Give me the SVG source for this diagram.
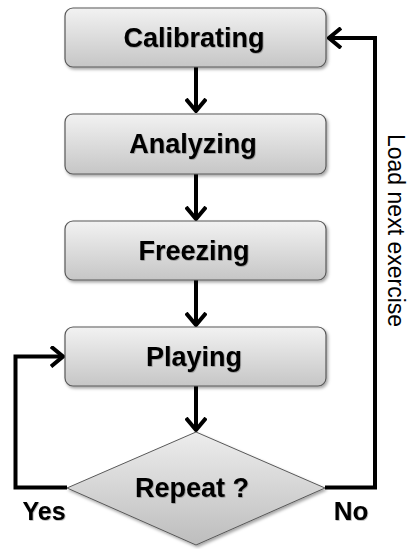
<svg xmlns="http://www.w3.org/2000/svg" width="413" height="549" viewBox="0 0 413 549">
<defs>
<linearGradient id="gBox" x1="0" y1="0" x2="0" y2="1">
<stop offset="0" stop-color="#f2f2f2"/>
<stop offset="1" stop-color="#c6c6c6"/>
</linearGradient>
<linearGradient id="gDia" x1="0" y1="0" x2="0" y2="1">
<stop offset="0" stop-color="#ededed"/>
<stop offset="1" stop-color="#bdbdbd"/>
</linearGradient>
<filter id="sh" x="-10%" y="-10%" width="120%" height="130%">
<feDropShadow dx="1.5" dy="2" stdDeviation="1.5" flood-color="#000" flood-opacity="0.35"/>
</filter>
<filter id="tsh" x="-5%" y="-10%" width="110%" height="130%">
<feDropShadow dx="0.7" dy="0.7" stdDeviation="0.4" flood-color="#000" flood-opacity="0.35"/>
</filter>
<marker id="ah" viewBox="0 0 15 22" refX="13" refY="11" markerWidth="15" markerHeight="22" markerUnits="userSpaceOnUse" orient="auto">
<path d="M1,1 L13,11 L1,21" fill="none" stroke="#000" stroke-width="4"/>
</marker>
</defs>
<style>
.box{fill:url(#gBox);stroke:#595959;stroke-width:1.2;filter:url(#sh)}
.dia{fill:url(#gDia);stroke:#595959;stroke-width:1;filter:url(#sh)}
.lbl{font-family:"Liberation Sans",Arial,sans-serif;font-weight:bold;font-size:27px;fill:#000;text-anchor:middle;filter:url(#tsh)}
.side{font-family:"Liberation Sans",Arial,sans-serif;font-size:23px;fill:#000}
.c{fill:none;stroke:#000;stroke-width:4}
</style>
<g id="connectors">
<path class="c" d="M196,67 V111" marker-end="url(#ah)"/>
<path class="c" d="M196,174 V219" marker-end="url(#ah)"/>
<path class="c" d="M196,280 V325" marker-end="url(#ah)"/>
<path class="c" d="M196,386 V430" marker-end="url(#ah)"/>
<path class="c" d="M67,487.5 H15.5 V356.5 H63" marker-end="url(#ah)"/>
<path class="c" d="M325,487.5 H375 V38 H329" marker-end="url(#ah)"/>
</g>
<g id="calibrating">
<rect class="box" x="65" y="8" width="261" height="59" rx="8"/>
<text class="lbl" x="194" y="47">Calibrating</text>
</g>
<g id="analyzing">
<rect class="box" x="65" y="114" width="261" height="60" rx="8"/>
<text class="lbl" x="193" y="153">Analyzing</text>
</g>
<g id="freezing">
<rect class="box" x="65" y="221" width="261" height="59" rx="8"/>
<text class="lbl" x="194" y="260">Freezing</text>
</g>
<g id="playing">
<rect class="box" x="65" y="327" width="261" height="59" rx="8"/>
<text class="lbl" x="194" y="366">Playing</text>
</g>
<g id="repeat">
<polygon class="dia" points="196,432 325,488 196,545 67,488"/>
<text class="lbl" x="192" y="497">Repeat ?</text>
</g>
<g id="labels">
<text class="lbl" x="44" y="520" style="font-size:25px">Yes</text>
<text class="lbl" x="351" y="520" style="font-size:26px">No</text>
<text class="side" transform="translate(388,134) rotate(90)">Load next exercise</text>
</g>
</svg>
